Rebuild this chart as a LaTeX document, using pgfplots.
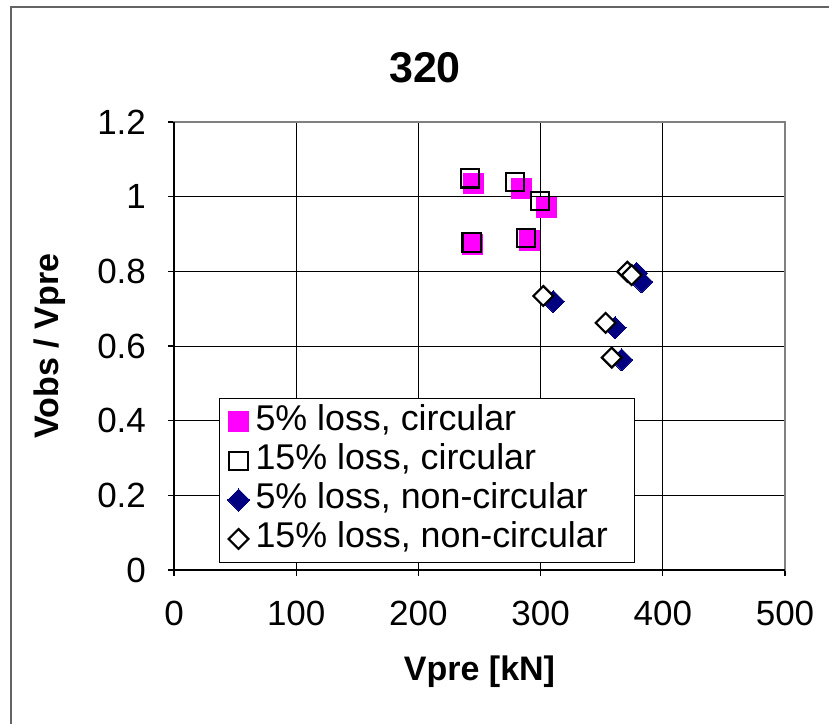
\documentclass[border=0pt]{standalone}
\usepackage{pgfplots}
\pgfplotsset{compat=1.18}
\usepackage{fontspec}
\setmainfont{Liberation Sans}
\definecolor{mymag}{RGB}{255,0,255}
\definecolor{mynavy}{RGB}{0,0,128}
\definecolor{frame}{RGB}{100,100,100}
\begin{document}
\begin{tikzpicture}
\useasboundingbox (-87pt,-76.5pt) rectangle (327.5pt,285pt);
\draw[frame, line width=1pt] (-81.5pt,-80pt) -- (-81.5pt,281.5pt) -- (330pt,281.5pt);
\begin{axis}[
  at={(0,0)}, anchor=south west,
  scale only axis, width=305.5pt, height=224pt,
  xmin=0, xmax=500, ymin=0, ymax=1.2,
  xtick={0,100,200,300,400,500},
  ytick={0,0.2,0.4,0.6,0.8,1,1.2},
  xtick pos=bottom, ytick pos=left,
  tick align=outside, major tick length=3pt,
  tick style={black, line width=0.6pt},
  grid=major, major grid style={black, line width=0.5pt},
  axis line style={draw=gray, line width=1pt},
  /pgf/number format/assume math mode=true,
  /pgf/number format/fixed,
  ticklabel style={font=\fontsize{17.5}{21}\selectfont},
  xticklabel style={yshift=-9pt},
  yticklabel style={xshift=-7.5pt},
  xlabel={Vpre [kN]},
  ylabel={Vobs / Vpre},
  xlabel style={font=\bfseries\fontsize{17}{20}\selectfont, at={(axis description cs:0.5,0)}, anchor=center, yshift=-51pt},
  ylabel style={font=\bfseries\fontsize{17}{20}\selectfont, at={(axis description cs:-0.203,0.5)}, anchor=center},
  legend cell align=left,
  legend style={at={(axis description cs:0.0737,0.384)}, anchor=north west,
    draw=black, line width=0.5pt, fill=white,
    font=\fontsize{17.9}{19}\selectfont,
    inner xsep=4pt, inner ysep=2pt,
    nodes={inner sep=1pt, text height=13pt, text depth=4.5pt},
    /tikz/every odd column/.append style={column sep=2pt}},
  legend image code/.code={\draw[#1] plot coordinates {(4pt,0pt)};},
]
\addplot[only marks, mark=square*, mark size=5pt, mark options={draw=mymag, fill=mymag, line width=0pt}]
  coordinates {(244.9,1.036) (284.5,1.022) (305,0.972) (244,0.873) (291.3,0.882)};
\addlegendentry{5\% loss, circular}
\addplot[only marks, mark=square, mark size=4.6pt, mark options={draw=black, line width=1.1pt}]
  coordinates {(242.2,1.049) (279,1.039) (299.5,0.988) (243.6,0.877) (288,0.889)};
\addlegendentry{15\% loss, circular}
\addplot[only marks, mark=square*, mark size=3.9pt, mark options={rotate=45, draw=mynavy, fill=mynavy, line width=0pt}]
  coordinates {(378.6,0.795) (382.7,0.772) (310.4,0.719) (360.9,0.649) (366.3,0.563)};
\addlegendentry{5\% loss, non-circular}
\addplot[only marks, mark=square*, mark size=3.5pt, mark options={rotate=45, draw=black, fill=white, line width=1.1pt}]
  coordinates {(371,0.799) (374.5,0.790) (302.2,0.734) (353.2,0.662) (358.2,0.569)};
\addlegendentry{15\% loss, non-circular\rule{8.5pt}{0pt}}
\end{axis}
\draw[black, line width=0.8pt] (0,224pt) -- (0,0) -- (305.5pt,0);
\node[font=\bfseries\fontsize{21.5}{25}\selectfont] at (125.5pt,251pt) {320};
\end{tikzpicture}
\end{document}
